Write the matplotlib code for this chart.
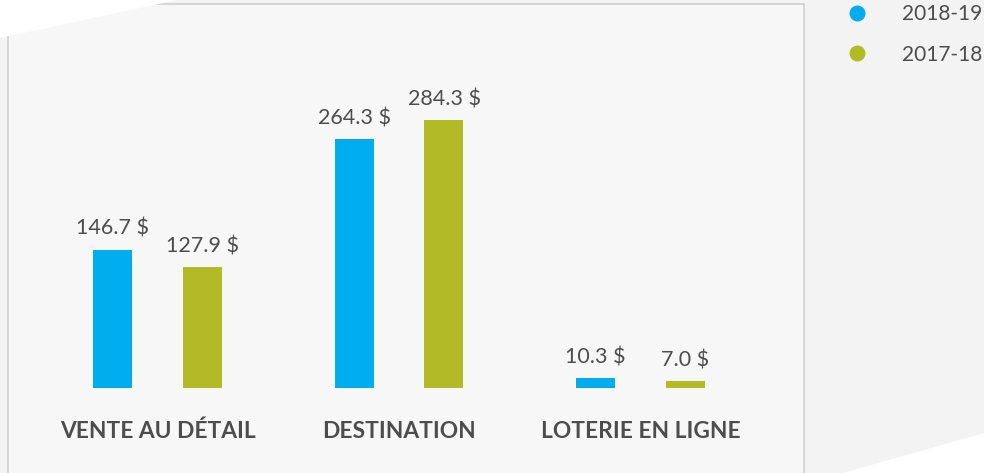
import matplotlib
matplotlib.use("Agg")
import matplotlib.pyplot as plt
from matplotlib.patches import Polygon
from matplotlib.lines import Line2D
import numpy as np

categories = ["VENTE AU DÉTAIL", "DESTINATION", "LOTERIE EN LIGNE"]
series_names = ["2018-19", "2017-18"]
values_1819 = [146.7, 264.3, 10.3]
values_1718 = [127.9, 284.3, 7.0]
colors = ["#00aeef", "#b2bb25"]

W, H = 984, 473
fig = plt.figure(figsize=(W / 100, H / 100), dpi=100)
fig.patch.set_facecolor("#f3f3f3")

def px(x, y):
    return (x / W, 1 - y / H)

fig.patches.append(Polygon([px(0, 0), px(177, 0), px(0, 38)], closed=True,
                           transform=fig.transFigure, facecolor="white",
                           edgecolor="none", zorder=0))
fig.patches.append(Polygon([px(843, 473), px(984, 473), px(984, 433)], closed=True,
                           transform=fig.transFigure, facecolor="white",
                           edgecolor="none", zorder=0))

left, right, top = 8 / W, 804 / W, 1 - 4.5 / H
bottom = -0.02
ax = fig.add_axes([left, bottom, right - left, top - bottom])
ax.patch.set_facecolor((1, 1, 1, 0.4))

scale = 0.9427  # px per unit
ax_h_px = (top - bottom) * H
baseline_px_from_top = 388 - 4.5
ymax = baseline_px_from_top / scale
ymin = -(ax_h_px - baseline_px_from_top) / scale
ax.set_ylim(ymin, ymax)

grp = 241.5
x0 = (157.5 - 8) / grp
ax.set_xlim(-x0, (796 / grp) - x0)

x = np.arange(len(categories))
off = 45 / grp
bw = 39 / grp

bars1 = ax.bar(x - off, values_1819, width=bw, color=colors[0], zorder=3)
bars2 = ax.bar(x + off, values_1718, width=bw, color=colors[1], zorder=3)

txt_color = "#4d4d4d"
for bars, vals in ((bars1, values_1819), (bars2, values_1718)):
    for b, v in zip(bars, vals):
        ax.annotate(f"{v:.1f} $", (b.get_x() + b.get_width() / 2, v),
                    xytext=(0, 15), textcoords="offset points",
                    ha="center", va="center", fontsize=15.5,
                    family="Lato", color=txt_color)

for xi, c in zip(x, categories):
    ax.annotate(c, (xi, 0), xytext=(0, -31.5), textcoords="offset points",
                ha="center", va="center", fontsize=16.4, fontweight="bold",
                family="Lato", color=txt_color)

ax.set_xticks([])
ax.set_yticks([])
for s in ("left", "top", "right"):
    ax.spines[s].set_color("#cccccc")
    ax.spines[s].set_linewidth(1.1)
ax.spines["bottom"].set_visible(False)

handles = [Line2D([], [], linestyle="none", marker="o", markersize=11.5,
                  markerfacecolor=c, markeredgecolor="none") for c in colors]
leg = fig.legend(handles, series_names, loc="upper left",
                 bbox_to_anchor=(846.6 / W, 1 - 4 / H),
                 frameon=False, borderpad=0, borderaxespad=0,
                 handlelength=1.0, handletextpad=1.66, labelspacing=0.99,
                 prop={"family": "Lato", "size": 15})
for t in leg.get_texts():
    t.set_color(txt_color)

fig.savefig("out.png", dpi=100, facecolor=fig.get_facecolor())
